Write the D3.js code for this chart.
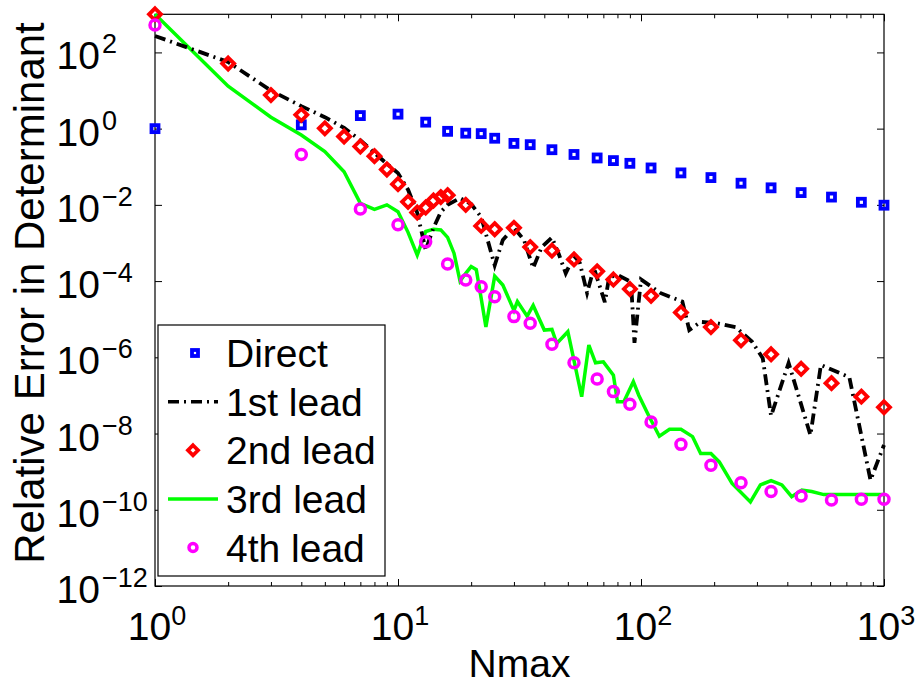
<!DOCTYPE html>
<html>
<head>
<meta charset="utf-8">
<script src="https://cdn.jsdelivr.net/npm/d3@7"></script>
<style>
  body { margin: 0; background: #fff; }
  svg { display: block; }
</style>
</head>
<body>
<div id="chart"></div>
<script>
// Nmax values where the markers sit
const nSparse = [1, 4, 7, 10, 13, 16, 19, 22, 25, 30, 35, 43, 53, 66, 77, 90, 110, 146, 194, 258, 343, 456, 608, 807, 1000];
const nDense  = [1, 2, 3, 4, 5, 6, 7, 8, 9, 10, 11, 12, 13, 14, 15, 16, 19, 22, 25, 30, 35, 43, 53, 66, 77, 90, 110, 146, 194, 258, 343, 456, 608, 807, 1000];

const direct = [1.0, 1.26, 2.2, 2.4, 1.48, 0.85, 0.76, 0.74, 0.56, 0.41, 0.38, 0.28, 0.21, 0.17, 0.145, 0.123, 0.093, 0.069, 0.052, 0.037, 0.028, 0.021, 0.016, 0.0117, 0.0098];

const lead2 = [1000, 51, 7.6, 2.3, 1.02, 0.62, 0.34, 0.19, 0.085, 0.035, 0.012, 6.3e-3, 8.5e-3, 1.3e-2, 1.6e-2, 1.8e-2,
  1.0e-2, 2.8e-3, 2.3e-3, 2.5e-3, 7.8e-4, 6.3e-4, 3.7e-4, 1.8e-4, 1.1e-4, 6.2e-5, 4.1e-5, 1.5e-5, 6.2e-6, 2.8e-6, 1.2e-6, 5.0e-7, 2.1e-7, 9.3e-8, 4.9e-8];

const lead4 = [525, 0.21, 7.8e-3, 3.0e-3, 1.07e-3, 2.8e-4, 1.07e-4, 7.1e-5, 3.9e-5, 1.17e-5, 7.8e-6, 2.2e-6, 7.2e-7, 2.7e-7, 1.26e-7,
  5.9e-8, 2.0e-8, 5.2e-9, 1.48e-9, 5.1e-10, 3.0e-10, 2.3e-10, 1.8e-10, 1.9e-10, 1.9e-10];

// line series
const nLead1 = [1, 2, 3, 4, 5, 6, 7, 8, 9, 10, 11, 12, 13, 14, 15, 16, 18, 20, 22, 25, 27, 30, 33, 36, 39, 43, 46, 49, 53, 56, 60, 64, 71, 74, 81, 91, 94, 100, 120, 148, 158, 176, 204, 245, 286, 317, 343, 405, 498, 550, 720, 880, 1000];
const lead1 = [270, 56, 10, 3.9, 2.0, 1.05, 0.5, 0.23, 0.12, 0.068, 0.025, 6.2e-3, 6.6e-4, 2.5e-3, 6.5e-3, 1.0e-2, 1.5e-2, 1.05e-2, 4.8e-3,
  2.6e-4, 1.2e-3, 2.5e-3, 1.2e-3, 2.2e-4, 7.8e-4, 1.4e-3, 4.9e-4, 1.6e-4, 4.6e-4, 3.0e-4, 4.9e-5, 2.2e-4, 2.8e-5, 1.3e-4, 1.4e-4, 9.5e-5,
  2.4e-6, 1.1e-4, 4.9e-5, 2.9e-5, 5.2e-6, 8.5e-6, 7.9e-6, 6.2e-6, 2.6e-6, 9.5e-7, 2.9e-8, 7.1e-7, 9.1e-9, 6.3e-7, 3.0e-7, 6.0e-10, 5.0e-9];

const nLead3 = [1, 2, 3, 4, 5, 6, 7, 8, 9, 10, 11, 12, 13, 14, 15, 16, 17, 18, 19, 20, 21, 22, 23, 25, 27, 30, 31, 34, 36, 40, 43, 45, 50, 57, 61, 65, 70, 77, 80, 85, 93, 98, 108, 119, 131, 146, 163, 176, 194, 210, 237, 282, 310, 343, 380, 417, 459, 504, 565, 650, 790, 1000];
const lead3 = [1000, 13, 2.0, 0.68, 0.25, 0.074, 0.011, 7.6e-3, 1.0e-2, 6.6e-3, 1.9e-3, 4.8e-4, 2.0e-3, 2.3e-3, 2.2e-3, 1.4e-3, 5.4e-4,
  1.0e-4, 1.6e-4, 2.4e-4, 2.0e-4, 3.5e-5, 6.3e-6, 1.35e-4, 7.9e-5, 1.7e-5, 2.9e-5, 1.2e-5, 2.3e-5, 5.2e-6, 5.4e-6, 2.3e-6, 4.7e-6,
  9.3e-8, 2.1e-6, 7.2e-7, 7.6e-7, 3.4e-7, 6.8e-8, 6.8e-8, 2.3e-7, 1.0e-7, 2.8e-8, 8.5e-9, 1.3e-8, 1.3e-8, 8.3e-9, 3.0e-9, 3.0e-9,
  1.8e-9, 4.9e-10, 1.6e-10, 4.5e-10, 5.8e-10, 4.5e-10, 2.2e-10, 3.3e-10, 3.0e-10, 2.5e-10, 2.5e-10, 2.5e-10, 2.5e-10];

const xMajor = [1, 10, 100, 1000];
const yMajor = [1e-12, 1e-10, 1e-8, 1e-6, 1e-4, 1e-2, 1, 1e2];
const legendLabels = ['Direct', '1st lead', '2nd lead', '3rd lead', '4th lead'];

const W = 918, H = 684;
const plotL = 155, plotR = 884, plotT = 14.3, plotB = 586;
const FONT = '"Liberation Sans", Arial, Helvetica, sans-serif';

const svg = d3.select('#chart').append('svg')
  .attr('width', W).attr('height', H)
  .attr('viewBox', `0 0 ${W} ${H}`);

svg.append('rect').attr('width', W).attr('height', H).attr('fill', '#fff');

const x = d3.scaleLog().domain([1, 1000]).range([plotL, plotR]);
const y = d3.scaleLog().domain([1e-12, 1e3]).range([plotB, plotT]);

const xMinor = [];
for (let d = 1; d < 1000; d *= 10) for (let k = 2; k <= 9; k++) xMinor.push(d * k);

// axes (ticks point inward)
function styleAxis(g) {
  g.select('.domain').remove();
  g.selectAll('line').attr('stroke', '#000').attr('stroke-width', 1);
}
svg.append('g').attr('transform', `translate(0,${plotB})`)
  .call(d3.axisBottom(x).tickValues(xMajor).tickSize(-7).tickFormat(''))
  .call(styleAxis);
svg.append('g').attr('transform', `translate(0,${plotB})`)
  .call(d3.axisBottom(x).tickValues(xMinor).tickSize(-4).tickFormat(''))
  .call(styleAxis);
svg.append('g').attr('transform', `translate(0,${plotT})`)
  .call(d3.axisTop(x).tickValues(xMajor).tickSize(-7).tickFormat(''))
  .call(styleAxis);
svg.append('g').attr('transform', `translate(0,${plotT})`)
  .call(d3.axisTop(x).tickValues(xMinor).tickSize(-4).tickFormat(''))
  .call(styleAxis);
svg.append('g').attr('transform', `translate(${plotL},0)`)
  .call(d3.axisLeft(y).tickValues(yMajor).tickSize(-7).tickFormat(''))
  .call(styleAxis);
svg.append('g').attr('transform', `translate(${plotR},0)`)
  .call(d3.axisRight(y).tickValues(yMajor).tickSize(-7).tickFormat(''))
  .call(styleAxis);

svg.append('rect')
  .attr('x', plotL).attr('y', plotT)
  .attr('width', plotR - plotL).attr('height', plotB - plotT)
  .attr('fill', 'none').attr('stroke', '#000').attr('stroke-width', 1.2);

// tick labels with superscript exponents
const expOf = v => Math.round(Math.log10(v));
const supText = e => (e < 0 ? '\u2212' + (-e) : '' + e);

svg.append('g').selectAll('text')
  .data(xMajor)
  .join('text')
  .attr('x', d => x(d) + 2)
  .attr('y', 640)
  .attr('text-anchor', 'middle')
  .attr('font-family', FONT)
  .attr('font-size', 39)
  .call(t => {
    t.append('tspan').text('10');
    t.append('tspan').attr('dy', -15).attr('font-size', 27).text(d => supText(expOf(d)));
  });

const yl = svg.append('g').selectAll('g')
  .data(yMajor)
  .join('g')
  .attr('transform', d => `translate(0,${y(d)})`);
yl.append('text')
  .attr('x', 100).attr('y', 17)
  .attr('text-anchor', 'end')
  .attr('font-family', FONT).attr('font-size', 39)
  .text('10');
yl.append('text')
  .attr('x', 102).attr('y', 1)
  .attr('font-family', FONT).attr('font-size', 27)
  .text(d => supText(expOf(d)));

// axis titles
svg.append('text')
  .attr('x', (plotL + plotR) / 2).attr('y', 677)
  .attr('text-anchor', 'middle')
  .attr('font-family', FONT).attr('font-size', 39)
  .text('Nmax');

svg.append('text')
  .attr('transform', 'translate(44,293) rotate(-90)')
  .attr('text-anchor', 'middle')
  .attr('font-family', FONT).attr('font-size', 42)
  .text('Relative Error in Determinant');

// lines
const line = d3.line().x(d => x(d[0])).y(d => y(d[1]));

svg.append('path')
  .datum(d3.zip(nLead3, lead3))
  .attr('d', line)
  .attr('fill', 'none')
  .attr('stroke', '#00ff00')
  .attr('stroke-width', 3.5)
  .attr('stroke-linejoin', 'miter');

svg.append('path')
  .datum(d3.zip(nLead1, lead1))
  .attr('d', line)
  .attr('fill', 'none')
  .attr('stroke', '#000')
  .attr('stroke-width', 3.8)
  .attr('stroke-dasharray', '11,5,2,5');

// marker helpers
function square(sel, s) {
  sel.append('rect')
    .attr('x', -s / 2).attr('y', -s / 2).attr('width', s).attr('height', s)
    .attr('fill', 'none').attr('stroke', '#0000ff').attr('stroke-width', 3.8);
}
function diamond(sel, r) {
  sel.append('path')
    .attr('d', `M0,${-r}L${r},0L0,${r}L${-r},0Z`)
    .attr('fill', 'none').attr('stroke', '#ff0000').attr('stroke-width', 3.8);
}
function ring(sel, r) {
  sel.append('circle')
    .attr('r', r)
    .attr('fill', 'none').attr('stroke', '#ff00ff').attr('stroke-width', 3.5);
}

svg.append('g').selectAll('g')
  .data(d3.zip(nSparse, direct))
  .join('g')
  .attr('transform', d => `translate(${x(d[0])},${y(d[1])})`)
  .call(g => square(g, 7));

svg.append('g').selectAll('g')
  .data(d3.zip(nDense, lead2))
  .join('g')
  .attr('transform', d => `translate(${x(d[0])},${y(d[1])})`)
  .call(g => diamond(g, 6));

svg.append('g').selectAll('g')
  .data(d3.zip(nSparse, lead4))
  .join('g')
  .attr('transform', d => `translate(${x(d[0])},${y(d[1])})`)
  .call(g => ring(g, 5));

// legend
const lg = svg.append('g');
lg.append('rect')
  .attr('x', 158).attr('y', 325).attr('width', 227).attr('height', 251)
  .attr('fill', '#fff').attr('stroke', '#000').attr('stroke-width', 1.2);

const rowY = d3.scalePoint().domain(legendLabels).range([353, 547.5]);
const rows = lg.selectAll('g.row')
  .data(legendLabels)
  .join('g')
  .attr('class', 'row')
  .attr('transform', d => `translate(0,${rowY(d)})`);

rows.append('text')
  .attr('x', 226).attr('y', 14)
  .attr('font-family', FONT).attr('font-size', 39)
  .text(d => d);

rows.filter((d, i) => i === 0).append('g').attr('transform', 'translate(195,0)').call(g => square(g, 6));
rows.filter((d, i) => i === 2).append('g').attr('transform', 'translate(193,0)').call(g => diamond(g, 5));
rows.filter((d, i) => i === 4).append('g').attr('transform', 'translate(193,0)').call(g => ring(g, 4));
rows.filter((d, i) => i === 1).append('line')
  .attr('x1', 168).attr('x2', 218)
  .attr('stroke', '#000').attr('stroke-width', 3.5)
  .attr('stroke-dasharray', '11,5,2,5');
rows.filter((d, i) => i === 3).append('line')
  .attr('x1', 168).attr('x2', 218)
  .attr('stroke', '#00ff00').attr('stroke-width', 3.5);
</script>
</body>
</html>
